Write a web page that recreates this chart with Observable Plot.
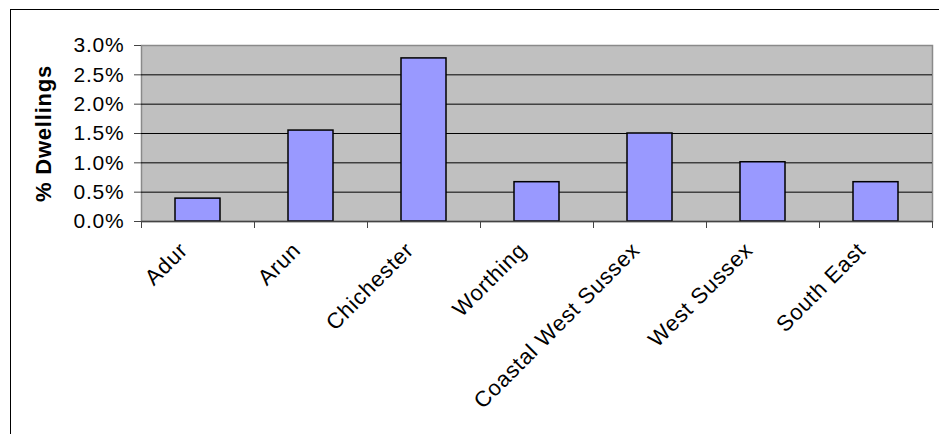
<!DOCTYPE html>
<html>
<head>
<meta charset="utf-8">
<script src="https://cdn.jsdelivr.net/npm/d3@7"></script>
<script src="https://cdn.jsdelivr.net/npm/@observablehq/plot@0.6"></script>
<style>
  html, body { margin: 0; padding: 0; background: #fff; }
  #chart { position: relative; width: 939px; height: 434px; overflow: hidden; }
  #chart .edge {
    position: absolute; left: 10px; top: 9px; right: -2px; bottom: -2px;
    border-top: 1px solid #000; border-left: 1px solid #000; pointer-events: none;
  }
  #chart svg text { letter-spacing: 0.8px; }
</style>
</head>
<body>
<div id="chart"><div class="edge"></div></div>
<script>
// Share of dwellings by area
const areas = ["Adur", "Arun", "Chichester", "Worthing", "Coastal West Sussex", "West Sussex", "South East"];
const shares = [0.0039, 0.0155, 0.0278, 0.0067, 0.0150, 0.0101, 0.0067];
const yTicks = [0, 0.005, 0.010, 0.015, 0.020, 0.025, 0.030];
const gridTicks = [0.005, 0.010, 0.015, 0.020, 0.025];

const data = areas.map((area, i) => ({area, share: shares[i]}));

const width = 939, height = 434;
const marginLeft = 141, marginRight = 7, marginTop = 45, marginBottom = 213;
const step = (width - marginLeft - marginRight) / areas.length;

const chart = Plot.plot({
  width, height, marginLeft, marginRight, marginTop, marginBottom,
  style: {fontFamily: "'Liberation Sans', Arial, sans-serif", fontSize: "21px", color: "#000", background: "transparent"},
  x: {domain: areas, paddingInner: 0.6, paddingOuter: 0.3, label: null},
  y: {domain: [0, 0.03], label: null},
  marks: [
    Plot.frame({fill: "#C0C0C0", stroke: "#8a8a8a", strokeWidth: 1.5}),
    Plot.ruleY(gridTicks, {stroke: "#000", strokeWidth: 1}),
    Plot.barY(data, {x: "area", y: "share", fill: "#9999FF", stroke: "#000", strokeWidth: 1.5}),
    Plot.ruleY([0], {stroke: "#444", strokeWidth: 1.5}),
    // category boundary ticks below the axis
    Plot.axisX({tickSize: 7, dx: -step / 2, text: null, stroke: "#444", label: null}),
    Plot.axisX([areas[areas.length - 1]], {tickSize: 7, dx: step / 2, text: null, stroke: "#444", label: null}),
    // category labels
    Plot.axisX({tickSize: 0, tickRotate: -45, textAnchor: "end", lineAnchor: "middle", tickPadding: 25, dx: -14, fontSize: 22, label: null}),
    Plot.axisY({
      ticks: yTicks, tickFormat: d3.format(".1%"), tickSize: 7, tickPadding: 10, stroke: "#444",
      label: "% Dwellings", labelArrow: "none", labelAnchor: "center", labelOffset: 106
    })
  ]
});

document.getElementById("chart").prepend(chart);
// bold y-axis title
d3.select(chart).selectAll("[aria-label='y-axis label'] text, g[aria-label='y-axis label']")
  .style("font-weight", "bold").style("font-size", "22px");
</script>
</body>
</html>
